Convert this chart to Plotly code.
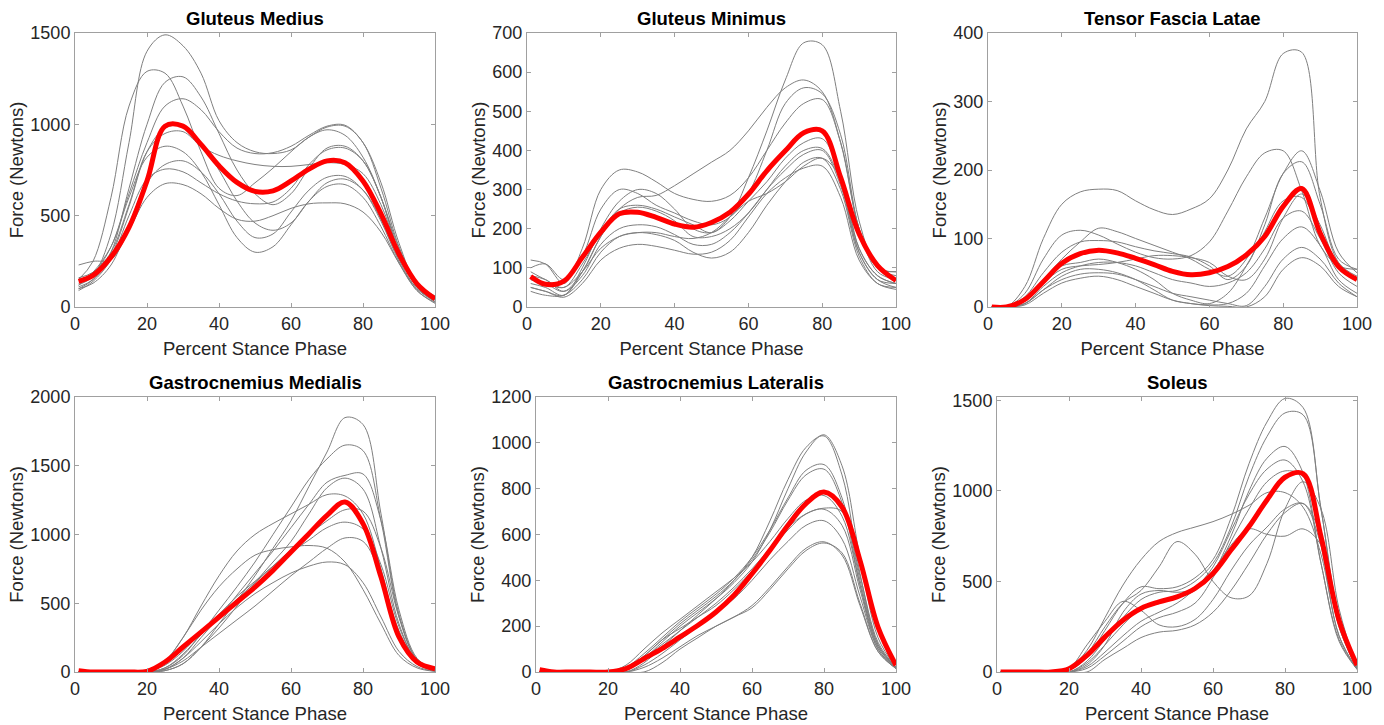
import plotly.graph_objects as go
from plotly.subplots import make_subplots

# percent stance phase sample points
X = [1, 5, 10, 15, 20, 25, 30, 35, 40, 45, 50, 55, 60, 65, 70, 75, 80, 85, 90, 95, 100]

TITLES = ["Gluteus Medius", "Gluteus Minimus", "Tensor Fascia Latae",
          "Gastrocnemius Medialis", "Gastrocnemius Lateralis", "Soleus"]

Y_RANGES = [[0, 1500], [0, 700], [0, 400], [0, 2000], [0, 1200], [0, 1518]]
Y_TICKS = [[0, 500, 1000, 1500], [0, 100, 200, 300, 400, 500, 600, 700],
           [0, 100, 200, 300, 400], [0, 500, 1000, 1500, 2000],
           [0, 200, 400, 600, 800, 1000, 1200], [0, 500, 1000, 1500]]
X_TICKS = [0, 20, 40, 60, 80, 100]

# individual subjects (gray) and mean (red), values in Newtons
GMED = [
    [120, 170, 400, 900, 1400, 1490, 1430, 1280, 1020, 900, 850, 840, 860, 930, 985, 990, 900, 650, 330, 130, 60],
    [150, 250, 600, 1100, 1290, 1280, 1100, 850, 650, 610, 680, 760, 850, 930, 970, 940, 820, 600, 300, 110, 40],
    [100, 150, 300, 650, 1000, 1230, 1260, 1150, 950, 750, 620, 560, 620, 760, 870, 880, 800, 600, 300, 110, 30],
    [130, 180, 330, 620, 900, 1100, 1140, 1080, 960, 870, 840, 845, 880, 940, 990, 995, 900, 680, 350, 120, 40],
    [110, 150, 280, 550, 850, 980, 990, 900, 750, 580, 460, 420, 460, 580, 680, 700, 640, 480, 260, 100, 30],
    [160, 190, 300, 560, 850, 950, 960, 880, 830, 800, 780, 770, 770, 780, 790, 780, 730, 560, 300, 110, 40],
    [120, 190, 330, 600, 820, 880, 850, 740, 560, 380, 300, 330, 450, 580, 660, 670, 600, 440, 240, 90, 20],
    [100, 130, 230, 450, 680, 780, 800, 740, 620, 470, 380, 400, 520, 640, 710, 715, 640, 470, 250, 90, 25],
    [90, 140, 260, 500, 700, 755, 740, 680, 620, 580, 565, 575, 650, 780, 860, 870, 800, 600, 320, 120, 40],
    [230, 250, 260, 420, 600, 675, 670, 620, 540, 480, 470, 500, 540, 565, 570, 565, 520, 410, 240, 100, 40],
]
GMED_MEAN = [140, 173, 273, 436, 690, 990, 990, 890, 773, 682, 633, 636, 690, 755, 800, 790, 690, 510, 290, 127, 45]

GMIN = [
    [90, 70, 50, 110, 190, 250, 260, 250, 230, 210, 190, 230, 330, 450, 580, 675, 670, 500, 220, 100, 80],
    [70, 60, 40, 90, 180, 250, 280, 285, 310, 340, 370, 400, 450, 510, 560, 580, 550, 420, 200, 100, 90],
    [100, 110, 70, 130, 250, 300, 290, 260, 240, 220, 210, 230, 290, 400, 520, 560, 545, 440, 200, 90, 70],
    [120, 110, 60, 150, 300, 350, 345, 320, 290, 275, 270, 285, 330, 400, 470, 520, 530, 420, 200, 100, 90],
    [60, 50, 30, 100, 200, 270, 300, 290, 250, 200, 190, 220, 270, 320, 380, 420, 430, 330, 150, 80, 60],
    [50, 40, 30, 90, 180, 240, 255, 245, 220, 180, 180, 200, 240, 300, 360, 400, 405, 320, 140, 70, 50],
    [80, 70, 40, 80, 160, 200, 210, 205, 185, 160, 160, 190, 240, 300, 350, 390, 400, 310, 140, 70, 60],
    [40, 30, 30, 70, 140, 180, 190, 185, 170, 140, 125, 140, 190, 260, 320, 370, 380, 300, 130, 60, 50],
    [50, 40, 25, 60, 120, 150, 160, 155, 145, 135, 140, 170, 230, 290, 330, 355, 360, 280, 120, 60, 45],
    [70, 60, 50, 90, 150, 180, 190, 190, 180, 175, 190, 230, 270, 290, 320, 360, 380, 330, 150, 80, 60],
]
GMIN_MEAN = [78, 58, 66, 127, 191, 238, 242, 229, 212, 204, 216, 242, 288, 348, 399, 445, 450, 331, 187, 106, 68]

TFL = [
    [0, 0, 30, 100, 150, 168, 172, 170, 155, 142, 135, 143, 158, 200, 260, 300, 370, 372, 160, 65, 45],
    [0, 0, 20, 70, 105, 112, 105, 92, 80, 72, 70, 75, 95, 140, 190, 225, 228, 170, 90, 60, 55],
    [0, 0, 10, 40, 70, 95, 115, 110, 100, 90, 80, 70, 55, 45, 70, 130, 195, 228, 170, 80, 50],
    [0, 0, 15, 50, 80, 95, 97, 95, 88, 82, 78, 73, 60, 40, 60, 120, 195, 212, 150, 70, 55],
    [0, 0, 10, 40, 60, 65, 70, 65, 55, 40, 20, 10, 5, 20, 60, 110, 155, 160, 110, 60, 40],
    [0, 0, 5, 30, 50, 60, 65, 65, 60, 50, 40, 35, 30, 35, 50, 85, 130, 140, 100, 50, 30],
    [0, 0, 5, 25, 45, 55, 55, 50, 40, 25, 10, 5, 3, 5, 20, 60, 100, 117, 90, 40, 20],
    [0, 0, 5, 25, 40, 48, 50, 48, 40, 30, 20, 15, 10, 5, 2, 30, 70, 87, 70, 35, 15],
    [0, 0, 3, 20, 35, 42, 45, 40, 30, 20, 10, 5, 2, 1, 0, 15, 55, 72, 60, 30, 15],
    [0, 0, 10, 35, 55, 60, 62, 65, 70, 75, 75, 72, 65, 45, 40, 70, 130, 165, 120, 60, 40],
]
TFL_MEAN = [0, 0, 11, 37, 64, 78, 83, 79, 71, 62, 52, 47, 50, 59, 76, 103, 147, 173, 108, 59, 40]

GASM = [
    [0, 0, 0, 0, 0, 10, 60, 180, 350, 520, 700, 900, 1100, 1350, 1600, 1850, 1800, 1150, 420, 90, 10],
    [0, 0, 0, 0, 0, 30, 120, 280, 450, 620, 800, 1000, 1200, 1400, 1550, 1650, 1610, 1100, 400, 90, 15],
    [0, 0, 0, 0, 0, 20, 100, 250, 400, 560, 720, 880, 1050, 1220, 1380, 1430, 1440, 1100, 450, 100, 15],
    [0, 0, 0, 0, 0, 10, 60, 180, 320, 480, 650, 800, 950, 1150, 1340, 1410, 1330, 900, 350, 80, 10],
    [0, 0, 0, 0, 10, 80, 250, 480, 700, 880, 1000, 1080, 1150, 1220, 1290, 1280, 1150, 750, 280, 60, 10],
    [0, 0, 0, 0, 0, 30, 130, 270, 400, 530, 650, 770, 890, 1000, 1100, 1180, 1170, 900, 400, 90, 15],
    [0, 0, 0, 0, 5, 50, 150, 290, 420, 550, 660, 770, 870, 960, 1050, 1090, 1040, 780, 330, 80, 10],
    [0, 0, 0, 0, 0, 20, 80, 180, 280, 380, 480, 590, 700, 800, 900, 975, 950, 700, 300, 70, 10],
    [0, 0, 0, 0, 10, 80, 250, 450, 620, 750, 850, 890, 910, 920, 900, 800, 600, 350, 120, 30, 5],
    [0, 0, 0, 0, 0, 20, 100, 220, 350, 470, 570, 650, 720, 770, 800, 780, 650, 400, 150, 40, 5],
]
GASM_MEAN = [10, 0, 0, 0, 5, 73, 182, 290, 400, 509, 618, 739, 873, 1006, 1139, 1236, 1079, 691, 255, 73, 24]

GASL = [
    [0, 0, 0, 0, 0, 10, 60, 130, 200, 260, 320, 390, 480, 620, 800, 960, 1035, 900, 500, 150, 20],
    [0, 0, 0, 0, 0, 0, 40, 110, 180, 250, 320, 400, 500, 660, 840, 980, 1030, 860, 430, 120, 20],
    [0, 0, 0, 0, 0, 20, 80, 150, 220, 280, 340, 410, 500, 620, 760, 880, 905, 760, 400, 120, 20],
    [0, 0, 0, 0, 0, 15, 70, 140, 210, 270, 330, 400, 490, 610, 750, 860, 885, 740, 380, 110, 20],
    [0, 0, 0, 0, 0, 30, 100, 170, 230, 290, 350, 410, 480, 570, 670, 750, 770, 680, 380, 110, 20],
    [0, 0, 0, 0, 0, 15, 70, 140, 190, 240, 290, 360, 440, 530, 620, 690, 715, 700, 420, 130, 20],
    [0, 0, 0, 0, 0, 10, 60, 120, 180, 240, 300, 370, 450, 540, 630, 690, 710, 640, 360, 100, 15],
    [0, 0, 0, 0, 0, 0, 30, 80, 140, 200, 260, 320, 400, 490, 570, 640, 660, 580, 330, 100, 15],
    [0, 0, 0, 0, 0, 0, 0, 40, 100, 150, 200, 240, 290, 370, 460, 540, 568, 510, 290, 90, 15],
    [0, 0, 0, 0, 0, 0, 20, 60, 110, 160, 200, 240, 280, 360, 450, 530, 563, 520, 300, 90, 15],
]
GASL_MEAN = [10, 0, 0, 0, 0, 15, 58, 102, 153, 204, 262, 335, 429, 531, 640, 735, 785, 720, 487, 196, 29]

SOL = [
    [0, 0, 0, 0, 10, 80, 230, 380, 470, 460, 470, 520, 620, 850, 1150, 1380, 1510, 1460, 900, 300, 20],
    [0, 0, 0, 0, 0, 60, 180, 300, 400, 440, 450, 500, 600, 800, 1080, 1300, 1430, 1420, 900, 280, 20],
    [0, 0, 0, 0, 0, 50, 150, 260, 350, 390, 410, 450, 550, 750, 1000, 1180, 1245, 1100, 600, 180, 15],
    [0, 0, 0, 0, 0, 30, 110, 200, 280, 330, 380, 460, 580, 780, 980, 1120, 1170, 1050, 600, 170, 15],
    [0, 0, 0, 0, 20, 120, 300, 480, 620, 720, 770, 800, 830, 870, 920, 990, 990, 910, 650, 200, 15],
    [0, 0, 0, 0, 10, 100, 250, 380, 450, 580, 720, 650, 500, 410, 420, 600, 900, 1050, 900, 350, 20],
    [0, 0, 0, 0, 0, 20, 90, 170, 250, 300, 330, 380, 520, 720, 900, 1050, 1110, 1080, 700, 200, 15],
    [0, 0, 0, 0, 0, 40, 150, 330, 430, 450, 440, 460, 560, 700, 790, 760, 750, 790, 700, 250, 20],
    [0, 0, 0, 0, 20, 150, 280, 390, 340, 260, 250, 290, 400, 560, 700, 800, 900, 930, 700, 250, 15],
    [0, 0, 0, 0, 0, 0, 70, 130, 190, 220, 230, 260, 330, 450, 600, 760, 880, 930, 750, 300, 20],
]
SOL_MEAN = [0, 0, 0, 0, 18, 92, 194, 286, 351, 387, 415, 461, 544, 673, 803, 950, 1075, 1095, 747, 286, 37]

panels = [(GMED, GMED_MEAN), (GMIN, GMIN_MEAN), (TFL, TFL_MEAN),
          (GASM, GASM_MEAN), (GASL, GASL_MEAN), (SOL, SOL_MEAN)]

W, H = 1384, 725
boxes = [(75, 435, 33, 307), (527, 896, 33, 307), (988, 1357, 33, 307),
         (75, 435, 397, 672), (536, 896, 397, 672), (997, 1357, 397, 672)]

fig = make_subplots(rows=2, cols=3)
font = "Liberation Sans, Arial, sans-serif"

for i, (curves, mean) in enumerate(panels):
    r, c = i // 3 + 1, i % 3 + 1
    for ys in curves:
        fig.add_trace(go.Scatter(x=X, y=ys, mode="lines", line=dict(color="#7f7f7f", width=1, shape="spline"),
                                 showlegend=False, hoverinfo="skip"), row=r, col=c)
    fig.add_trace(go.Scatter(x=X, y=mean, mode="lines", line=dict(color="#ff0000", width=5, shape="spline"),
                             showlegend=False), row=r, col=c)

    l, rr, t, b = boxes[i]
    n = "" if i == 0 else str(i + 1)
    fig.layout["xaxis" + n].update(
        domain=[l / W, rr / W], range=[0, 100], tickvals=X_TICKS,
        title=dict(text="Percent Stance Phase", standoff=9, font=dict(size=18.5, color="#262626")),
    )
    fig.layout["yaxis" + n].update(
        domain=[(H - b) / H, (H - t) / H], range=Y_RANGES[i], tickvals=Y_TICKS[i],
        title=dict(text="Force (Newtons)", standoff=1, font=dict(size=18.5, color="#262626")),
    )
    fig.add_annotation(text="<b>" + TITLES[i] + "</b>", xref="paper", yref="paper",
                       x=(l + rr) / 2 / W, y=(H - t + 2) / H, xanchor="center", yanchor="bottom",
                       showarrow=False, font=dict(size=18.5, color="black", family=font))

axis_style = dict(showgrid=False, zeroline=False, showline=True, linecolor="#a0a0a0", linewidth=1,
                  mirror="ticks", ticks="inside", ticklen=4, tickcolor="#a0a0a0", automargin=False,
                  tickfont=dict(size=18, color="#262626"))
fig.update_xaxes(**axis_style)
fig.update_yaxes(**axis_style)

fig.update_layout(
    width=W, height=H, margin=dict(l=0, r=0, t=0, b=0, autoexpand=False),
    paper_bgcolor="white", plot_bgcolor="white",
    font=dict(family=font), showlegend=False,
)

# page body has a default 8px margin; drop it so the figure sits at the window corner
fig.write_html("out.html", config={"displayModeBar": False},
               post_script="document.body.style.margin='0';")
